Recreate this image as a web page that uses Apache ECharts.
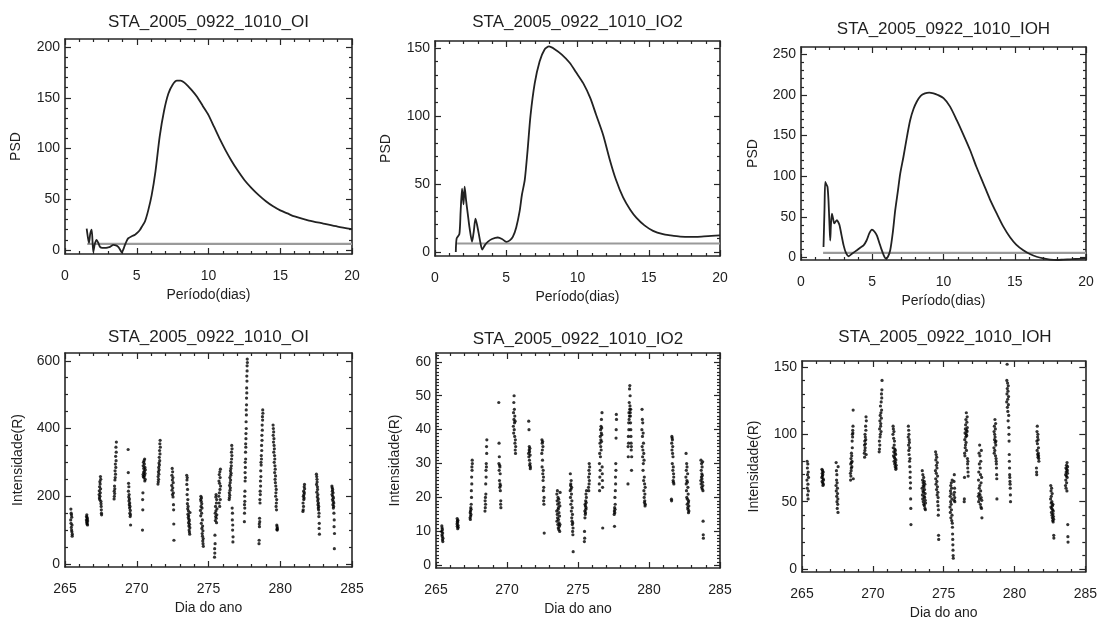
<!DOCTYPE html>
<html><head><meta charset="utf-8">
<script src="https://cdn.jsdelivr.net/npm/echarts@6/dist/echarts.min.js"></script>
<style>html,body{margin:0;padding:0;background:#fff}#c{width:1100px;height:621px}</style>
</head><body><div id="c"></div>
<script>
const FONT = '"Liberation Sans", Arial, Helvetica, sans-serif';
const panelTitles = ['STA_2005_0922_1010_OI','STA_2005_0922_1010_IO2','STA_2005_0922_1010_IOH','STA_2005_0922_1010_OI','STA_2005_0922_1010_IO2','STA_2005_0922_1010_IOH'];
const psdXName = 'Período(dias)', psdYName = 'PSD', dayXName = 'Dia do ano', intYName = 'Intensidade(R)';
const periodTicks = [0,5,10,15,20];
const dayTicks = [265,270,275,280,285];
const psdOITicks = [0,50,100,150,200];
const psdIO2Ticks = [0,50,100,150];
const psdIOHTicks = [0,50,100,150,200,250];
const intOITicks = [0,200,400,600];
const intIO2Ticks = [0,10,20,30,40,50,60];
const intIOHTicks = [0,50,100,150];
const sigOI = 5.9, sigIO2 = 6.2, sigIOH = 5.7;
const sigPeriodRange = [1.55, 20];

const psdOI = [[1.51,21],[1.6,12],[1.67,7],[1.76,16],[1.86,20],[1.97,-2],[2.08,6],[2.2,10],[2.32,7],[2.44,3],[2.6,2],[2.79,2],[3.0,2.5],[3.14,3],[3.37,5],[3.55,4.5],[3.71,3],[3.85,0],[3.95,-2.6],[4.05,0],[4.18,5],[4.3,9],[4.41,11.5],[4.65,13.5],[4.88,15],[5.05,17],[5.23,20],[5.4,24],[5.57,28],[5.8,39],[6.04,54],[6.3,77],[6.6,112],[6.9,137],[7.2,154],[7.5,163],[7.8,167],[8.05,167],[8.4,164],[8.8,158],[9.2,151],[9.6,142],[10.0,133],[10.4,121],[10.8,109],[11.2,98],[11.6,88],[12.0,79],[12.5,69],[13.0,61],[13.5,54],[14.0,48],[14.5,43],[15.0,39],[15.5,36],[16.0,33],[17.0,29],[18.0,26],[19.0,23],[20.0,20.5]];
const psdIO2 = [[1.46,0],[1.52,10],[1.71,13],[1.8,30],[1.9,46.5],[2.0,35],[2.08,48],[2.18,38],[2.3,28],[2.42,18],[2.6,7.4],[2.72,15],[2.84,24.5],[2.95,20],[3.07,13.5],[3.2,6],[3.31,1.7],[3.5,5],[3.7,7.4],[4.0,9.5],[4.41,10.6],[4.7,9.5],[5.0,7.4],[5.25,8.5],[5.46,11],[5.7,18],[5.94,30],[6.1,42],[6.3,53],[6.5,75],[6.7,100],[7.0,124],[7.34,140],[7.7,149],[8.0,151],[8.4,149],[8.9,145],[9.45,139],[9.9,132],[10.4,124],[10.9,113],[11.3,101],[11.8,86],[12.26,68],[12.7,53],[13.2,40],[13.7,31],[14.14,25],[14.7,19.5],[15.3,15.5],[16.0,13],[16.5,12.2],[17.2,11.3],[17.9,11],[18.7,11.3],[19.4,11.8],[20,12.2]];
const psdIOH = [[1.58,13],[1.65,60],[1.7,93],[1.78,90],[1.86,87],[1.93,70],[2.0,40],[2.05,21],[2.1,40],[2.17,54],[2.25,48],[2.33,42],[2.42,44],[2.52,46],[2.6,44],[2.7,40],[2.85,27],[2.99,15],[3.15,6],[3.34,1.6],[3.6,5],[3.92,9],[4.15,12],[4.39,15],[4.6,21],[4.8,30],[4.98,34.4],[5.15,32],[5.33,27],[5.5,18],[5.63,11],[5.8,3],[5.95,-1.3],[6.1,1],[6.26,9],[6.45,32],[6.61,58],[6.8,82],[6.96,103],[7.19,124],[7.45,150],[7.66,169],[7.9,183],[8.13,192],[8.4,199],[8.7,202],[9.0,203],[9.3,202],[9.6,200],[10.0,196],[10.45,186],[10.93,169],[11.4,151],[11.87,132],[12.3,112],[12.8,91],[13.25,72],[13.74,54],[14.2,38],[14.67,25],[15.1,16],[15.6,9],[16.1,4],[16.54,1],[17.0,-1],[17.48,-2.5],[18.0,-3],[18.4,-2.5],[19.0,-2],[19.5,-1.5],[20,-1]];

// Nightly observations: t = day of year, v = intensity (R)
const intOI = [
{t:[265.40,265.41,265.42,265.43,265.44,265.45,265.46,265.47,265.48,265.49,265.50,265.51], v:[130,162,120,150,108,145,100,138,95,115,82,88]},
{t:[266.49,266.50,266.51,266.52,266.53,266.54,266.55,266.56,266.57,266.58], v:[130,140,124,145,118,137,121,133,115,127]},
{t:[267.38,267.39,267.40,267.41,267.42,267.43,267.44,267.45,267.46,267.47,267.48,267.49,267.50,267.51,267.52,267.53,267.54,267.55], v:[205,216,195,228,190,243,200,236,210,258,222,250,185,178,170,160,150,145]},
{t:[268.42,268.43,268.44,268.45,268.46,268.47,268.48,268.49,268.50,268.51,268.52,268.53,268.54,268.55,268.56,268.57,268.58], v:[192,215,200,230,208,222,248,275,255,295,265,318,285,345,305,330,360]},
{t:[269.40,269.41,269.42,269.43,269.44,269.45,269.46,269.47,269.48,269.49,269.50,269.51,269.52,269.53,269.54,269.55,269.56,269.57], v:[338,270,215,238,198,228,186,205,175,192,165,180,150,170,140,158,145,115]},
{t:[270.40,270.41,270.42,270.43,270.44,270.45,270.46,270.47,270.48,270.49,270.50,270.51,270.52,270.53,270.54,270.55,270.56,270.57,270.58,270.59,270.60], v:[100,190,160,210,264,290,258,300,270,282,255,305,274,295,261,310,245,285,267,250,278]},
{t:[271.48,271.49,271.50,271.51,271.52,271.53,271.54,271.55,271.56,271.57,271.58,271.59,271.60,271.61,271.62,271.63,271.64], v:[236,258,243,272,250,285,265,298,278,315,292,335,305,355,325,365,345]},
{t:[272.44,272.45,272.46,272.47,272.48,272.49,272.50,272.51,272.52,272.53,272.54,272.55,272.56,272.57,272.58,272.59], v:[232,262,218,282,248,205,272,225,255,198,240,210,175,160,118,70]},
{t:[273.48,273.49,273.50,273.51,273.52,273.53,273.54,273.55,273.56,273.57,273.58,273.59,273.60,273.61,273.62,273.63,273.64,273.65,273.66,273.67,273.68,273.69,273.70,273.71], v:[262,235,248,205,255,178,220,163,190,147,170,137,157,122,142,112,132,100,127,94,117,88,107,152]},
{t:[274.44,274.45,274.46,274.47,274.48,274.49,274.50,274.51,274.52,274.53,274.54,274.55,274.56,274.57,274.58,274.59,274.60,274.61,274.62,274.63,274.64], v:[158,190,142,200,170,185,120,195,150,178,105,165,90,130,82,112,68,98,60,75,52]},
{t:[275.42,275.43,275.44,275.45,275.46,275.47,275.48,275.49,275.50,275.51,275.52,275.53,275.54,275.55,275.56,275.57,275.58,275.59,275.72,275.73,275.74,275.75,275.76,275.77,275.78,275.79,275.80,275.81,275.82,275.83,275.84], v:[20,45,32,85,60,150,128,170,140,198,157,205,135,180,122,190,145,163,200,245,180,264,210,238,170,272,220,255,190,280,230]},
{t:[276.44,276.45,276.46,276.47,276.48,276.49,276.50,276.51,276.52,276.53,276.54,276.55,276.56,276.57,276.58,276.59,276.60,276.61,276.62,276.63,276.64,276.65,276.66,276.67,276.68,276.69,276.70,276.71], v:[190,210,196,232,203,255,218,240,225,275,248,262,282,268,300,290,330,310,350,320,340,165,130,150,100,115,65,80]},
{t:[277.50,277.51,277.51,277.52,277.53,277.53,277.54,277.55,277.55,277.56,277.57,277.57,277.58,277.59,277.59,277.60,277.61,277.61,277.62,277.63,277.63,277.64,277.65,277.65,277.66,277.67,277.67,277.68,277.69,277.69,277.70,277.71], v:[125,175,150,200,165,185,215,270,245,300,255,285,330,310,355,345,385,370,420,400,455,440,490,470,520,505,555,540,585,570,605,595]},
{t:[278.52,278.53,278.54,278.55,278.56,278.57,278.58,278.59,278.60,278.61,278.62,278.63,278.64,278.65,278.66,278.67,278.68,278.69,278.70,278.71,278.72,278.73,278.74,278.75,278.76,278.77,278.78,278.79], v:[60,70,118,110,135,125,190,180,215,205,245,230,275,258,300,292,320,310,350,335,380,365,410,395,435,425,455,445]},
{t:[279.50,279.51,279.52,279.53,279.54,279.55,279.56,279.57,279.58,279.59,279.60,279.61,279.62,279.63,279.64,279.65,279.66,279.67,279.68,279.69,279.70,279.71,279.72,279.73,279.74,279.75,279.76,279.77,279.78,279.79,279.80], v:[410,380,400,360,390,330,370,350,300,340,320,270,310,290,250,280,240,260,200,230,210,170,220,180,160,190,115,102,110,100,105]},
{t:[281.58,281.59,281.60,281.61,281.62,281.63,281.64,281.65,281.66,281.67,281.68,281.69,281.70], v:[155,180,160,200,170,215,190,205,195,228,210,235,222]},
{t:[282.52,282.53,282.54,282.55,282.56,282.57,282.58,282.59,282.60,282.61,282.62,282.63,282.64,282.65,282.66,282.67,282.68,282.69,282.70,282.71,282.72,282.73], v:[265,235,258,212,250,242,198,228,220,186,205,175,192,165,180,160,170,140,150,105,120,88]},
{t:[283.60,283.61,283.62,283.63,283.64,283.65,283.66,283.67,283.68,283.69,283.70,283.71,283.72,283.73,283.74,283.75,283.76,283.77,283.78], v:[230,205,225,215,190,220,200,175,210,185,165,195,170,180,150,110,130,45,90]}
];

const intIO2 = [
{t:[265.40,265.41,265.42,265.43,265.44,265.45,265.46,265.47,265.48,265.49], v:[10,11.6,9,11,8.5,10.5,7.5,9.5,7,8]},
{t:[266.48,266.49,266.50,266.51,266.52,266.53,266.54,266.55,266.56], v:[12.2,13.8,11.5,13,12.6,10.8,13.3,11.8,11.2]},
{t:[267.40,267.41,267.42,267.43,267.44,267.45,267.46,267.47,267.48,267.49,267.50,267.51,267.52,267.53,267.54,267.55,267.56], v:[14,15.5,13.5,16,14.5,17,15,16.5,18,22,20,26,24,29,28,31,30]},
{t:[268.45,268.46,268.47,268.48,268.49,268.50,268.51,268.52,268.53,268.54,268.55,268.56,268.57,268.58], v:[16,19,17,20,18,24,21,28,26,30,29,35,33,37]},
{t:[269.42,269.43,269.44,269.45,269.46,269.47,269.48,269.49,269.50,269.51,269.52,269.53,269.54,269.55,269.56,269.57], v:[48,30,36,28,32,25,29.5,23,29,24,27,22,23.5,18,19,17]},
{t:[270.45,270.46,270.47,270.48,270.49,270.50,270.51,270.52,270.53,270.54,270.55,270.56,270.57,270.58,270.59,270.60,270.61], v:[41,45,39,48,43,50,40,46,42,38,44,36,42.5,34,37,33,35]},
{t:[271.52,271.53,271.54,271.55,271.56,271.57,271.58,271.59,271.60,271.61,271.62,271.63,271.64,271.65], v:[33,42.5,32,40,34,35,31,33.5,29.5,34.5,30,32.5,28.5,29]},
{t:[272.45,272.46,272.47,272.48,272.49,272.50,272.51,272.52,272.53,272.54,272.55,272.56,272.57,272.58,272.59,272.60,272.61,272.62], v:[33,37,29,36,34,31,36.5,27,35,25,28,22,26,19,23,18,20,9.5]},
{t:[273.50,273.51,273.52,273.53,273.54,273.55,273.56,273.57,273.58,273.59,273.60,273.61,273.62,273.63,273.64,273.65,273.66,273.67,273.68,273.69,273.70,273.71,273.72,273.73,273.74], v:[16,21,13,19,15,22,14,18,12,20,16.5,11,17,13.5,19.5,10.5,15.5,12.5,18.5,11.5,14.5,10,17.5,12,21.5]},
{t:[274.45,274.46,274.47,274.48,274.49,274.50,274.51,274.52,274.53,274.54,274.55,274.56,274.57,274.58,274.59,274.60,274.61,274.62,274.63,274.64,274.65,274.66], v:[22,27,20,23.5,24,18,22.5,25,16,21,23,14,19,13,17,12,15,10,12.5,9,11,4]},
{t:[275.45,275.46,275.47,275.48,275.49,275.50,275.51,275.52,275.53,275.54,275.55,275.56,275.57,275.58,275.59,275.60,275.74,275.75,275.76,275.77,275.78,275.79,275.80,275.81,275.82], v:[7,10,8,16,14,18,15,17.5,15.5,19,16.5,21,17,18.5,20,22,23,26,22,28,24,30,25,27,29]},
{t:[276.50,276.51,276.52,276.53,276.54,276.55,276.56,276.57,276.58,276.59,276.60,276.61,276.62,276.63,276.64,276.65,276.66,276.67,276.68,276.69,276.70,276.71,276.72,276.73,276.74], v:[24,30,22,33,26,36,28,38,32,40,35,37,41,34,39,43,36.5,40.5,38.5,45,29,27,25,23,11]},
{t:[277.55,277.56,277.57,277.58,277.59,277.60,277.61,277.62,277.63,277.64,277.65,277.66,277.67,277.68,277.69,277.70,277.71], v:[15,16,11.5,17,15.5,20,16.5,18,22,26,24,30,28,37.5,40,44.5,43]},
{t:[278.52,278.53,278.54,278.55,278.56,278.57,278.58,278.59,278.60,278.61,278.62,278.63,278.64,278.65,278.66,278.67,278.68,278.69,278.70,278.71,278.72,278.73,278.74,278.75,278.76,278.77,278.78], v:[24,35,32,38,36,42,40,45,43,48,44,52,46,53,47,50,45,44,42,46,40,38,36,34,35,28,32]},
{t:[279.50,279.51,279.52,279.53,279.54,279.55,279.56,279.57,279.58,279.59,279.60,279.61,279.62,279.63,279.64,279.65,279.66,279.67,279.68,279.69,279.70,279.71,279.72,279.73,279.74], v:[40,46,35,43,38,32,42,34,28,39,30,36,25,33,22,31,20,26,18.5,24,19,21,17.5,23,18]},
{t:[281.58,281.59,281.60,281.61,281.62,281.63,281.64,281.65,281.66,281.67,281.68,281.69,281.70,281.71,281.72,281.73,281.74,281.75], v:[19.5,19,36,38,34,37.5,30,37,33,35,28,32,25,29,24.5,27,26,24]},
{t:[282.60,282.61,282.62,282.63,282.64,282.65,282.66,282.67,282.68,282.69,282.70,282.71,282.72,282.73,282.74,282.75,282.76,282.77,282.78,282.79,282.80,282.81], v:[26,33,24,28,22,30,20,25,29,18,24.5,19.5,27,17,23,16.5,21,18.5,15.5,19,17.5,16]},
{t:[283.65,283.66,283.67,283.68,283.69,283.70,283.71,283.72,283.73,283.74,283.75,283.76,283.77,283.78,283.79,283.80,283.81,283.82,283.83], v:[25,31,24,28,26,30,23,27,25.5,29,22.5,26.5,24.5,30.5,23.5,22,13,9,8]}
];

const intIOH = [
{t:[265.35,265.36,265.37,265.38,265.39,265.40,265.41,265.42,265.43,265.44,265.45,265.46], v:[66,80,60,75,70,55,78,63,52,72,58,68]},
{t:[266.40,266.41,266.42,266.43,266.44,266.45,266.46,266.47,266.48,266.49,266.50,266.51,266.52], v:[68,74,65,71,69,73,64,70,62,67,72,63,66]},
{t:[267.40,267.41,267.42,267.43,267.44,267.45,267.46,267.47,267.48,267.49,267.50,267.51,267.52,267.53,267.54,267.55], v:[62,79,58,73,66,54,70,50,64,45,60,56,48,52,42,76]},
{t:[268.42,268.43,268.44,268.45,268.46,268.47,268.48,268.49,268.50,268.51,268.52,268.53,268.54,268.55,268.56,268.57,268.58,268.59,268.60,268.61,268.62], v:[71,66,78,69,82,73,75,86,79,84,76,80,95,90,100,98,103,101,106,118,67]},
{t:[269.40,269.41,269.42,269.43,269.44,269.45,269.46,269.47,269.48,269.49,269.50,269.51,269.52,269.53,269.54], v:[86,92,83,95,88,100,90,98,93,106,96,103,113,85,110]},
{t:[270.45,270.46,270.47,270.48,270.49,270.50,270.51,270.52,270.53,270.54,270.55,270.56,270.57,270.58,270.59,270.60,270.61,270.62,270.63,270.64,270.65], v:[87,95,89,104,92,110,98,114,100,121,106,108,116,102,124,112,130,118,127,133,140]},
{t:[271.42,271.43,271.44,271.45,271.46,271.47,271.48,271.49,271.50,271.51,271.52,271.53,271.54,271.55,271.56,271.57,271.58,271.59,271.60,271.61,271.62,271.63,271.64,271.65], v:[100,106,90,104,84,97,87,102,80,92,83,95,78,89,82,86,76,88,79,85,74,81,75,77]},
{t:[272.50,272.51,272.52,272.53,272.54,272.55,272.56,272.57,272.58,272.59,272.60,272.61,272.62,272.63,272.64,272.65,272.66,272.67,272.68,272.69], v:[98,106,92,103,88,100,85,96,94,80,90,76,82,68,72,60,64,52,45,33]},
{t:[273.48,273.49,273.50,273.51,273.52,273.53,273.54,273.55,273.56,273.57,273.58,273.59,273.60,273.61,273.62,273.63,273.64,273.65,273.66,273.67,273.68,273.69,273.70,273.71,273.72], v:[60,73,55,66,52,70,58,64,50,62,57,68,48,61,54,65,47,59,53,63,45,56,51,44,49]},
{t:[274.42,274.43,274.44,274.45,274.46,274.47,274.48,274.49,274.50,274.51,274.52,274.53,274.54,274.55,274.56,274.57,274.58,274.59,274.60,274.61,274.62,274.63,274.64,274.65], v:[73,87,67,81,63,85,71,77,59,83,65,75,55,79,61,69,50,57,47,53,40,44,25,22]},
{t:[275.45,275.46,275.47,275.48,275.49,275.50,275.51,275.52,275.53,275.54,275.55,275.56,275.57,275.58,275.59,275.60,275.61,275.62,275.63,275.64,275.65,275.66,275.67,275.68,275.72,275.73,275.74,275.75,275.76,275.77,275.78,275.79], v:[46,54,42,58,50,62,38,56,48,64,44,60,36,52,40,66,34,31,26,22,18,14,10,8,55,65,51,70,57,60,53,50]},
{t:[276.45,276.46,276.47,276.48,276.49,276.50,276.51,276.52,276.53,276.54,276.55,276.56,276.57,276.58,276.59,276.60,276.61,276.62,276.63,276.64,276.65,276.66,276.67,276.68,276.69,276.70,276.71,276.72,276.73], v:[50,52,68,86,96,84,101,90,104,92,107,98,111,94,100,116,88,103,99,109,102,113,105,82,78,75,80,72,69]},
{t:[277.45,277.46,277.47,277.48,277.49,277.50,277.51,277.52,277.53,277.54,277.55,277.56,277.57,277.58,277.59,277.60,277.61,277.62,277.63,277.64,277.65,277.66,277.67,277.68,277.69,277.70], v:[54,66,50,72,56,86,60,78,52,92,62,84,55,75,48,70,58,80,46,64,53,88,45,68,51,38]},
{t:[278.55,278.56,278.57,278.58,278.59,278.60,278.61,278.62,278.63,278.64,278.65,278.66,278.67,278.68,278.69,278.70,278.71,278.72,278.73,278.74,278.75,278.76], v:[90,102,86,106,96,100,88,111,98,94,104,84,108,92,95,82,80,78,75,70,67,52]},
{t:[279.45,279.46,279.47,279.48,279.49,279.50,279.51,279.52,279.53,279.54,279.55,279.56,279.57,279.58,279.59,279.60,279.61,279.62,279.63,279.64,279.65,279.66,279.67,279.68,279.69,279.70,279.71,279.72], v:[124,140,130,152,134,120,138,126,117,132,110,136,122,128,114,105,100,95,85,80,75,70,68,65,63,60,55,50]},
{t:[281.55,281.56,281.57,281.58,281.59,281.60,281.61,281.62,281.63,281.64,281.65,281.66,281.67,281.68,281.69,281.70,281.71,281.72], v:[75,72,70,95,102,88,106,93,98,85,100,83,96,86,90,84,82,80]},
{t:[282.55,282.56,282.57,282.58,282.59,282.60,282.61,282.62,282.63,282.64,282.65,282.66,282.67,282.68,282.69,282.70,282.71,282.72,282.73,282.74,282.75,282.76,282.77,282.78], v:[52,62,46,58,49,54,42,60,45,50,40,56,38,47,44,36,48,41,35,43,39,37,25,23]},
{t:[283.60,283.61,283.62,283.63,283.64,283.65,283.66,283.67,283.68,283.69,283.70,283.71,283.72,283.73,283.74,283.75,283.76,283.77,283.78], v:[62,70,66,75,60,72,69,77,64,74,58,79,68,73,71,76,33,24,20]}
];

// ---- layout / style ----
const panels = [
 {grid:{left:65, top:39, width:287, height:215}, titleTop:14, x:[0,20], y:[-4,208], xMaj:periodTicks, xStep:1, yMaj:psdOITicks, yStep:10, xName:psdXName, yName:psdYName, xNameGap:34, yNameGap:42},
 {grid:{left:435, top:41, width:285, height:215}, titleTop:14, x:[0,20], y:[-3,155], xMaj:periodTicks, xStep:1, yMaj:psdIO2Ticks, yStep:10, xName:psdXName, yName:psdYName, xNameGap:34, yNameGap:42},
 {grid:{left:801, top:47, width:285, height:213}, titleTop:21, x:[0,20], y:[-3,259], xMaj:periodTicks, xStep:1, yMaj:psdIOHTicks, yStep:10, xName:psdXName, yName:psdYName, xNameGap:34, yNameGap:41},
 {grid:{left:65, top:353, width:287, height:214}, titleTop:329, x:[265,285], y:[-9,623], xMaj:dayTicks, xStep:1, yMaj:intOITicks, yStep:50, xName:dayXName, yName:intYName, xNameGap:34, yNameGap:40},
 {grid:{left:436, top:353, width:284, height:215}, titleTop:331, x:[265,285], y:[-0.8,62.6], xMaj:dayTicks, xStep:1, yMaj:intIO2Ticks, yStep:1, xName:dayXName, yName:intYName, xNameGap:34, yNameGap:34},
 {grid:{left:802, top:361, width:286, height:213}, titleTop:329, x:[265,285], y:[-2.2,154.4], xMaj:dayTicks, xStep:1, yMaj:intIOHTicks, yStep:10, xName:dayXName, yName:intYName, xNameGap:34, yNameGap:41}
];

function minorTicks(min, max, step, majors) {
  const out = [];
  const start = Math.ceil(min / step - 1e-9) * step;
  for (let v = start; v <= max + 1e-9; v += step) {
    const r = Math.round(v * 1000) / 1000;
    if (!majors.some(m => Math.abs(m - r) < 1e-6)) out.push(r);
  }
  return out;
}
function nightsToPairs(nights) {
  const out = [];
  nights.forEach(n => n.t.forEach((t, k) => out.push([t, n.v[k]])));
  return out;
}
const LINE = '#262626';
function axis(grid, range, pos, ticks, len, o) {
  o = o || {};
  return {
    type:'value', gridIndex:grid, min:range[0], max:range[1], position:pos,
    axisLine:{show:!!o.line, onZero:false, lineStyle:{color:LINE, width:1.6}},
    axisTick:{show:true, inside:true, length:len, customValues:ticks, lineStyle:{color:LINE, width:1.2}},
    axisLabel:{show:!!o.label, customValues:ticks, margin:o.margin || 8, fontSize:14, color:'#1e1e1e', fontFamily:FONT},
    splitLine:{show:false}, minorTick:{show:false}, minorSplitLine:{show:false},
    name:o.name || '', nameLocation:'middle', nameGap:o.nameGap || 0,
    nameTextStyle:{fontSize:14, color:'#1e1e1e', fontFamily:FONT},
    silent:true
  };
}

const xAxis = [], yAxis = [], grid = [], title = [], series = [];
const curves = [psdOI, psdIO2, psdIOH];
const sigs = [sigOI, sigIO2, sigIOH];
const scatters = [intOI, intIO2, intIOH];

panels.forEach((p, i) => {
  grid.push(Object.assign({show:false, containLabel:false}, p.grid));
  title.push({text:panelTitles[i], left:p.grid.left + p.grid.width / 2, top:p.titleTop, textAlign:'center', padding:0,
    textStyle:{fontSize:17, fontWeight:'normal', color:'#1e1e1e', fontFamily:FONT}});
  const xMin = minorTicks(p.x[0], p.x[1], p.xStep, p.xMaj);
  const yMin = minorTicks(p.y[0], p.y[1], p.yStep, p.yMaj);
  const xi = xAxis.length, yi = yAxis.length;
  xAxis.push(axis(i, p.x, 'bottom', p.xMaj, 6, {line:true, label:true, margin:15, name:p.xName, nameGap:p.xNameGap}));
  xAxis.push(axis(i, p.x, 'bottom', xMin, 3));
  xAxis.push(axis(i, p.x, 'top', p.xMaj, 6, {line:true}));
  xAxis.push(axis(i, p.x, 'top', xMin, 3));
  yAxis.push(axis(i, p.y, 'left', p.yMaj, 6, {line:true, label:true, margin:5, name:p.yName, nameGap:p.yNameGap}));
  yAxis.push(axis(i, p.y, 'left', yMin, 3));
  yAxis.push(axis(i, p.y, 'right', p.yMaj, 6, {line:true}));
  yAxis.push(axis(i, p.y, 'right', yMin, 3));
  if (i < 3) {
    series.push({type:'line', xAxisIndex:xi, yAxisIndex:yi, data:[[sigPeriodRange[0], sigs[i]], [sigPeriodRange[1], sigs[i]]],
      showSymbol:false, silent:true, lineStyle:{color:'#9a9a9a', width:2.2}, z:2});
    series.push({type:'line', xAxisIndex:xi, yAxisIndex:yi, data:curves[i], showSymbol:false, smooth:0.25, silent:true,
      lineStyle:{color:'#222', width:1.8}, z:3});
  } else {
    series.push({type:'scatter', xAxisIndex:xi, yAxisIndex:yi, data:nightsToPairs(scatters[i - 3]), symbol:'circle', symbolSize:3.2,
      silent:true, itemStyle:{color:'#000'}, z:3});
  }
});

const chart = echarts.init(document.getElementById('c'), null, {renderer:'canvas'});
chart.setOption({animation:false, backgroundColor:'#fff', title, grid, xAxis, yAxis, series});
</script></body></html>
